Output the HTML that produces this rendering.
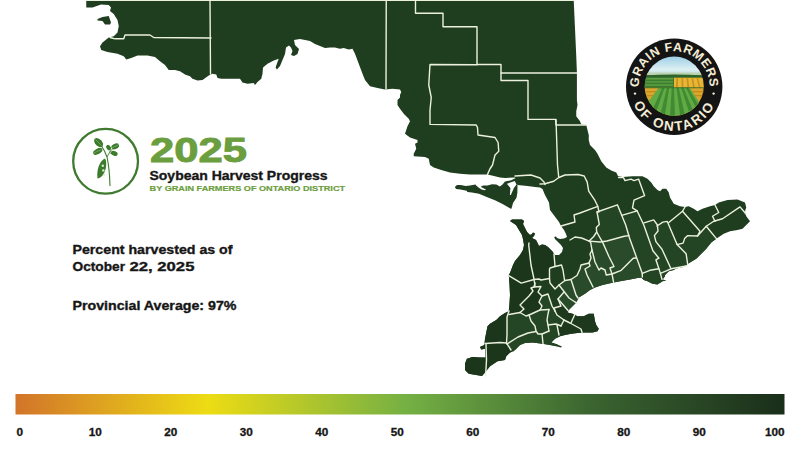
<!DOCTYPE html>
<html><head><meta charset="utf-8">
<style>
html,body{margin:0;padding:0;background:#fff;}
body{width:800px;height:450px;position:relative;overflow:hidden;font-family:"Liberation Sans",sans-serif;}
svg{position:absolute;left:0;top:0;}
.t{position:absolute;white-space:nowrap;font-weight:bold;color:#161616;line-height:1;transform-origin:0 0;}
</style></head><body>
<svg width="800" height="450" viewBox="0 0 800 450">
<defs>
<linearGradient id="bar" x1="0" x2="1" y1="0" y2="0">
<stop offset="0" stop-color="#d2742a"/>
<stop offset="0.25" stop-color="#eddc14"/>
<stop offset="0.51" stop-color="#74b044"/>
<stop offset="0.75" stop-color="#3a6430"/>
<stop offset="1" stop-color="#1a2e1a"/>
</linearGradient>
</defs>
<g id="map">
<clipPath id="mapclip"><path d="M86.25,1 L573.75,1 L576.25,56 L576.9,72.5 L576.9,100 L577.5,105 L576.25,111.25 L576.25,116.25 L580,121.25 L581.25,124.4 L586.25,125 L588.75,135 L588.75,140 L590,145 L595,150 L597.5,153.75 L601.25,161.25 L606.25,167.5 L611.25,170.6 L616.25,172.5 L618.1,176.25 L622.5,176.9 L632.5,176.25 L642.5,176.25 L647.5,178.75 L651.25,182.5 L653.75,186.25 L657.5,190 L660,191.25 L662.5,188.75 L666.25,188.75 L668.75,192.5 L670,197.5 L673.75,203.75 L680,206.25 L685,206.9 L688.75,206.25 L693.75,208.75 L697.5,211.25 L702.5,208.75 L710,206.25 L715,205 L718.75,202.5 L727.5,200 L737.5,199.4 L745,202.5 L746.25,207.5 L745,211.25 L746.25,216.25 L750,221.25 L746.25,225 L742.5,228.75 L737.5,230 L730,231.25 L723.75,233.75 L716.25,238.75 L711.25,242.5 L706.25,248.75 L701.25,253.75 L696.25,258.75 L690,262.5 L686.25,265 L683,267 L676,268.5 L673.75,270 L668.75,271.25 L665,275 L665,276.25 L662.5,279.4 L666.25,280.6 L662.5,281.25 L657.5,284.4 L652.5,283.75 L647.5,281.25 L643.75,280 L641.25,277.5 L637.5,278.1 L630,279.4 L620,281.25 L611.25,283.1 L602.5,285 L595,287.5 L590,290 L585,293.75 L578.75,297.5 L576.25,302.5 L572.5,306.25 L568.75,310 L567.5,312.5 L572.5,313.75 L577.5,316.25 L583.75,316.25 L588.75,313.75 L593.75,313.75 L595,321.25 L596.25,325 L598.75,328.75 L597.5,331.25 L592.5,332.5 L583.75,332.5 L577.5,333.1 L571.25,333.75 L565,335 L560,336.25 L555,338.75 L551.25,342.5 L556,344 L562,346.5 L561,347.5 L555,346 L550,345 L542.5,343.75 L532.5,342.5 L525,343.1 L520,345 L515,350 L513.75,351.25 L510,352.5 L506.25,356.25 L505,360 L497.5,361.25 L490,366.25 L485,372.5 L482,376 L476.25,375 L468.75,373.75 L465,370 L465,363.75 L466.9,358.75 L472.5,356.9 L480,357.5 L485.6,357.5 L485,348.75 L481.25,349.4 L480,346.9 L484.4,345 L485,338.75 L486.25,332.5 L487.5,326.25 L490,323.75 L496.25,320 L500,316.25 L505,313.1 L508.75,311.25 L509.4,305 L510,295 L509.4,282.5 L508.75,275 L510,273 L513,265 L515,261 L520,255 L523,250 L524,245 L523,239 L522,235 L519,230 L516,225 L510,221 L512,219.5 L522,219.5 L524,221 L523,224 L525,228 L527,232 L530,235 L532,234 L533,232.5 L535,233.5 L534,236 L532,238 L536,240 L538,244 L539,246 L542,244.5 L545,245 L548,247 L552,251 L555,255 L559,255 L562,252 L563,248 L561,245 L557,241 L555,239 L554.5,237 L556,236.5 L557,238 L560,239 L564,238.5 L567,237 L566,234 L564,230 L561,226 L559,222 L556,218 L553,214 L550,210 L549,202.5 L545,195 L542.5,189 L540,187.5 L535,187 L527.5,186 L517.5,185 L516,180 L515,177.5 L505,178 L500,177.5 L495,176.25 L487.5,174.4 L470,174.4 L460,173.75 L450,172.5 L441.25,170 L433.75,167.5 L430,165 L428.75,158.75 L425,156.9 L413.75,156.25 L413.75,153.75 L416.25,148.75 L415,143.75 L417.5,142.5 L417.5,140 L410,137.5 L405,133.75 L406.25,130 L407.5,126.25 L410,121.25 L408.75,118.75 L403.75,113.75 L400,108.75 L397.5,105 L397.5,100 L400,97.5 L400,95 L401.25,92 L400,89.4 L392.5,88.75 L385,89.4 L377.5,88 L370,86.25 L365,80 L362.5,73.75 L358.75,63.75 L355,53.75 L352.5,48.75 L348.75,49.4 L343.75,48 L340,48.75 L335,47.5 L330,47.5 L325,48 L320,46 L315,44 L310,41 L305,40 L300,39 L294,40 L295,45 L299,49 L297.5,54 L294,56 L291,55 L292.5,51 L291,47.5 L289,45.6 L286,47.5 L285,54 L282.5,60 L280,66 L276.9,69.4 L275.6,67.5 L277.5,62 L278.75,58.75 L273.75,60.6 L267.5,63.75 L263,67.5 L262.5,73.75 L261.25,78.75 L257.5,81.9 L255,85 L253.75,83 L247.5,83.75 L242.5,82.5 L240,78.75 L221.25,78.75 L217.5,78 L216.25,74.4 L212.5,73.75 L208.75,75.6 L202.5,80 L197.5,80.6 L192.5,78.75 L190,76.25 L185,74.4 L180,71.25 L175,70 L168.75,70 L165,65 L160,61.25 L155,57 L147.5,55.6 L137.5,55.6 L131.25,58 L126.25,59.4 L123.75,56.25 L117.5,53.75 L107.5,52 L101.25,50 L100,46.25 L102.5,42.5 L108.75,37.5 L113.75,36.25 L117.5,32.5 L118.75,26 L117.5,20 L113.75,14 L110,11 L111,7.5 L108.75,5 L101,4.4 L92.5,7.5 L86.25,7.5 Z"/></clipPath>
<path fill="#1f3d1f" d="M86.25,1 L573.75,1 L576.25,56 L576.9,72.5 L576.9,100 L577.5,105 L576.25,111.25 L576.25,116.25 L580,121.25 L581.25,124.4 L586.25,125 L588.75,135 L588.75,140 L590,145 L595,150 L597.5,153.75 L601.25,161.25 L606.25,167.5 L611.25,170.6 L616.25,172.5 L618.1,176.25 L622.5,176.9 L632.5,176.25 L642.5,176.25 L647.5,178.75 L651.25,182.5 L653.75,186.25 L657.5,190 L660,191.25 L662.5,188.75 L666.25,188.75 L668.75,192.5 L670,197.5 L673.75,203.75 L680,206.25 L685,206.9 L688.75,206.25 L693.75,208.75 L697.5,211.25 L702.5,208.75 L710,206.25 L715,205 L718.75,202.5 L727.5,200 L737.5,199.4 L745,202.5 L746.25,207.5 L745,211.25 L746.25,216.25 L750,221.25 L746.25,225 L742.5,228.75 L737.5,230 L730,231.25 L723.75,233.75 L716.25,238.75 L711.25,242.5 L706.25,248.75 L701.25,253.75 L696.25,258.75 L690,262.5 L686.25,265 L683,267 L676,268.5 L673.75,270 L668.75,271.25 L665,275 L665,276.25 L662.5,279.4 L666.25,280.6 L662.5,281.25 L657.5,284.4 L652.5,283.75 L647.5,281.25 L643.75,280 L641.25,277.5 L637.5,278.1 L630,279.4 L620,281.25 L611.25,283.1 L602.5,285 L595,287.5 L590,290 L585,293.75 L578.75,297.5 L576.25,302.5 L572.5,306.25 L568.75,310 L567.5,312.5 L572.5,313.75 L577.5,316.25 L583.75,316.25 L588.75,313.75 L593.75,313.75 L595,321.25 L596.25,325 L598.75,328.75 L597.5,331.25 L592.5,332.5 L583.75,332.5 L577.5,333.1 L571.25,333.75 L565,335 L560,336.25 L555,338.75 L551.25,342.5 L556,344 L562,346.5 L561,347.5 L555,346 L550,345 L542.5,343.75 L532.5,342.5 L525,343.1 L520,345 L515,350 L513.75,351.25 L510,352.5 L506.25,356.25 L505,360 L497.5,361.25 L490,366.25 L485,372.5 L482,376 L476.25,375 L468.75,373.75 L465,370 L465,363.75 L466.9,358.75 L472.5,356.9 L480,357.5 L485.6,357.5 L485,348.75 L481.25,349.4 L480,346.9 L484.4,345 L485,338.75 L486.25,332.5 L487.5,326.25 L490,323.75 L496.25,320 L500,316.25 L505,313.1 L508.75,311.25 L509.4,305 L510,295 L509.4,282.5 L508.75,275 L510,273 L513,265 L515,261 L520,255 L523,250 L524,245 L523,239 L522,235 L519,230 L516,225 L510,221 L512,219.5 L522,219.5 L524,221 L523,224 L525,228 L527,232 L530,235 L532,234 L533,232.5 L535,233.5 L534,236 L532,238 L536,240 L538,244 L539,246 L542,244.5 L545,245 L548,247 L552,251 L555,255 L559,255 L562,252 L563,248 L561,245 L557,241 L555,239 L554.5,237 L556,236.5 L557,238 L560,239 L564,238.5 L567,237 L566,234 L564,230 L561,226 L559,222 L556,218 L553,214 L550,210 L549,202.5 L545,195 L542.5,189 L540,187.5 L535,187 L527.5,186 L517.5,185 L516,180 L515,177.5 L505,178 L500,177.5 L495,176.25 L487.5,174.4 L470,174.4 L460,173.75 L450,172.5 L441.25,170 L433.75,167.5 L430,165 L428.75,158.75 L425,156.9 L413.75,156.25 L413.75,153.75 L416.25,148.75 L415,143.75 L417.5,142.5 L417.5,140 L410,137.5 L405,133.75 L406.25,130 L407.5,126.25 L410,121.25 L408.75,118.75 L403.75,113.75 L400,108.75 L397.5,105 L397.5,100 L400,97.5 L400,95 L401.25,92 L400,89.4 L392.5,88.75 L385,89.4 L377.5,88 L370,86.25 L365,80 L362.5,73.75 L358.75,63.75 L355,53.75 L352.5,48.75 L348.75,49.4 L343.75,48 L340,48.75 L335,47.5 L330,47.5 L325,48 L320,46 L315,44 L310,41 L305,40 L300,39 L294,40 L295,45 L299,49 L297.5,54 L294,56 L291,55 L292.5,51 L291,47.5 L289,45.6 L286,47.5 L285,54 L282.5,60 L280,66 L276.9,69.4 L275.6,67.5 L277.5,62 L278.75,58.75 L273.75,60.6 L267.5,63.75 L263,67.5 L262.5,73.75 L261.25,78.75 L257.5,81.9 L255,85 L253.75,83 L247.5,83.75 L242.5,82.5 L240,78.75 L221.25,78.75 L217.5,78 L216.25,74.4 L212.5,73.75 L208.75,75.6 L202.5,80 L197.5,80.6 L192.5,78.75 L190,76.25 L185,74.4 L180,71.25 L175,70 L168.75,70 L165,65 L160,61.25 L155,57 L147.5,55.6 L137.5,55.6 L131.25,58 L126.25,59.4 L123.75,56.25 L117.5,53.75 L107.5,52 L101.25,50 L100,46.25 L102.5,42.5 L108.75,37.5 L113.75,36.25 L117.5,32.5 L118.75,26 L117.5,20 L113.75,14 L110,11 L111,7.5 L108.75,5 L101,4.4 L92.5,7.5 L86.25,7.5 Z"/>
<g clip-path="url(#mapclip)">
<path fill="#244524" d="M589.2,241.1 L593.7,236.5 L596.7,232 L599.3,224.4 L597,212 L617.4,204.8 L621.7,215.3 L637.1,210.8 L644,222.9 L653.7,219.9 L657.4,225 L662.8,222.1 L667.3,221.4 L677.1,244.6 L683.1,243.1 L687.7,235.6 L697.5,236 L706.25,226.25 L716.4,238.6 L730,240 L720,270 L690,275 L640,290 L629,235.6 L624.2,236.3 L607,241 L600,242 Z"/>
<path fill="#1b361b" d="M500,200 L556,230 L554,254 L555,266.5 L550,268 L549.5,269 L549.5,278.5 L541,280 L539,279 L534,279.5 L535,283 L534,287 L541,286.5 L538,292 L542,296 L539,302 L542,306 L540,310 L529,315 L526,316 L520,312.5 L509,314.5 L507,317 L507,335 L506.5,343 L511,350 L520,380 L450,390 L450,200 Z"/>
<path fill="#294b29" d="M559,285 L565,280.5 L571,279.5 L577,275.5 L580,269 L581,265 L589,263 L591,258 L590,254 L592,250 L590.7,242.6 L589.2,241.1 L600,242 L607,241 L624.2,236.3 L629,235.6 L642.3,273.4 L642.3,290 L600,295 L578,305 L568,310.5 L558,299 L564,292 Z"/>
<path fill="#254625" d="M507,317 L509,314.5 L520,312.5 L526,316 L529,315 L540,310 L542,306 L539,302 L542,296 L548,294 L552,306 L555,311 L557,315 L564,320 L561,326 L557,325 L559,335 L555,350 L511,350 L506.5,343 L507,335 Z"/>
<path fill="#1d381d" d="M555,311 L557,315 L564,320 L561,326 L557,325 L559,335 L556,345 L600,340 L605,305 L578,305 L568,310.5 L558,299 L561,306 L554,308 Z"/>
</g>
<path fill="#1f3d1f" d="M97.5,19 L102.5,17 L108.75,16 L111,22.5 L110,24.4 L105,24.4 L102.5,21 L97.5,20.6 Z"/>
<path fill="#1f3d1f" d="M454.8,187 L457,185 L460.5,185 L465.75,186 L470,185.5 L475.4,184.6 L476.7,186 L478.9,187.7 L481.5,189.4 L485,190.3 L485.9,189.4 L480.6,186.8 L483.2,185.5 L487.6,185.5 L492,184.2 L496.4,184.6 L499.9,186.4 L502.5,184.6 L505,181.6 L511.25,180.25 L514.75,178.5 L517.5,177.5 L518.5,179.5 L517.5,184 L517.4,192.5 L516.5,197.75 L513,203 L512.1,206.5 L511.25,209 L508.6,207.4 L502.5,203.9 L495.5,200.4 L486.75,196.9 L478.9,193.8 L471.9,192.5 L467.5,192 L466.6,190.75 L460.5,189.4 L456.1,189 Z"/>
<path fill="#fff" d="M506.9,183.75 L514.75,181 L516.5,184.6 L513.9,188 L510.8,195 L509.9,195 L510.4,188 Z"/>
<g fill="none" stroke="#ebf0df" stroke-width="1.4" stroke-linejoin="round" stroke-linecap="round">
<path d="M86,0.3 L574,0.3"/>
<path d="M210,0 L210.5,74"/>
<path d="M110,37.5 L113.75,38.5 L116,38.75 L123.75,38.75 L125,35 L150,35 L153.75,37.5 L211,38"/>
<path d="M386.25,0 L386,89"/>
<path d="M415.5,0 L415.5,13.2 L443,13.2 L443,26.8 L477,26.8 L477,64.7 L430,64.5 L428.75,85 L431.25,97.5 L430,110 L430,124.4 L476.25,125 L477.5,127.5 L478,135 L495,137.5 L498.1,142.5 L498.75,151.25 L495,155 L492.5,165 L490,168.75 L487.5,174.4"/>
<path d="M477,64.5 L501,64.5 L501,80.5 L528,80.5 L528,119.4 L555.6,119.4 L556,125 L586.25,125"/>
<path d="M501,73 L576.9,73"/>
<path d="M556,119.4 L557.5,165 L558.75,177.5"/>
<path d="M515,176 L531,175 L540,178 L544,182 L545,184.5"/>
<path d="M540,184 L545,183.75 L553.75,181.25 L558.75,177.5 L565,175 L578.1,174.5 L584.2,176 L587.2,182.1 L588.7,191.2 L594.8,200.2 L597.8,206.3 L599,212"/>
<path d="M561,226 L575,222 L574,215 L580,213 L597.8,206.3"/>
<path d="M597,212 L617.4,204.8 L625.7,225 L629.5,238 L642.3,273.4 L642.3,277"/>
<path d="M597,212 L599.3,224.4 L596.3,227.4 L596.7,232 L602.8,242.6 L608.8,256.2 L614,266.5 L610,268 L612,274 L613.6,282.4"/>
<path d="M570,240 L575,237 L581.6,238 L589.2,241.1 L593.7,236.5 L596.7,232"/>
<path d="M589.2,241.1 L600,242 L607,241 L624.2,236.3 L629,235.6"/>
<path d="M592,250 L595,262 L599,270 L601,268 L605,270 L606.25,275 L612,274 L621.2,270.3 L633.2,258.2 L636,258"/>
<path d="M621.7,215.3 L637.1,210.8 L643.8,225 L652.9,250.7 L658.9,258.2 L655.9,259.8 L658.9,268.8 L660.4,273.4 L662,279.4"/>
<path d="M642.3,273.4 L649.9,270.3 L658.9,268.8"/>
<path d="M660.4,273.4 L671,268.8 L687.7,265.8"/>
<path d="M618.5,177.6 L623.5,177.6 L625,180.6 L631,179.1 L634,180.6 L638.6,179.1 L644.6,195.7 L634,200.2 L632.5,207.8 L637.1,210.8"/>
<path d="M644,222.9 L653.7,219.9 L657.4,225 L658,231 L654.4,235.6 L655.9,241.6 L662,249.2 L671,268.8"/>
<path d="M657,226 L662.8,222.1 L667.3,221.4 L677.1,244.6 L683.1,243.1 L684.6,238.6 L687.7,235.6 L697.5,236 L706.25,226.25 L713.75,221.25 L722.5,218.75 L740,206.9 L743.75,211.25 L746,214"/>
<path d="M677.1,244.6 L686.1,253.7 L687.7,264.3"/>
<path d="M668.8,222.5 L682.5,211.25 L685,207"/>
<path d="M682.5,211.25 L700,231.25 L697.5,236"/>
<path d="M706.25,226.25 L716.4,238.6"/>
<path d="M715,205 L718.75,212.5 L712.5,216.25 L715,221.25"/>
<path d="M529,243 L528.7,245 L531,265 L534,279 L535,286"/>
<path d="M508.75,275.6 L521.25,283.1 L534,279.5 L539,279 L541,280 L549.5,278.5"/>
<path d="M554,254 L555,266.5"/>
<path d="M549.5,278.5 L549.5,269 L550,268 L555,266.5 L561.5,265 L563,270 L564.5,280"/>
<path d="M549.5,278.5 L550,283 L555,289 L559,285 L565,280.5 L571,279.5 L577,275.5 L580,269 L581,265 L589,263 L591,258 L590,254 L592,250 L590.7,242.6 L589.2,241.1"/>
<path d="M559,285 L569,298 L575,302 L577,303"/>
<path d="M571,279.5 L576,295 L578,298"/>
<path d="M589,263 L590,266 L585,269 L587,275 L591,283 L593,287"/>
<path d="M535,283 L534,287 L531,288 L533,291 L529,296 L525,300 L520,305 L524,309 L520,312.5"/>
<path d="M534,287 L541,286.5 L538,292 L542,296 L539,302 L542,306 L540,310"/>
<path d="M509,314.5 L520,312.5 L526,316 L529,315 L540,310 L549,309.5"/>
<path d="M542,296 L548,294 L552,306 L555,311"/>
<path d="M549,309.5 L548,314 L547,320 L548,325 L549,331"/>
<path d="M548,325 L556,324 L561,326"/>
<path d="M564,292 L558,299 L561,306 L554,308 L555,311"/>
<path d="M558,299 L568,310.5"/>
<path d="M555,311 L557,315 L564,320 L570,323 L581,329 L582,332.5"/>
<path d="M564,320 L561,326"/>
<path d="M575,314 L571,323"/>
<path d="M557,325 L559,335"/>
<path d="M529,315 L531,321 L535,326 L536,331 L538,334 L542,334 L549,331"/>
<path d="M542,334 L543,343.5"/>
<path d="M507,344 L518,337 L528,333 L536,331.5"/>
<path d="M509,311 L507,317 L507,335 L506.5,343"/>
<path d="M485,343.5 L500,342.5 L506.5,343"/>
<path d="M506.5,343 L511,350"/>
<path d="M486,344 L486.5,360 L485.6,376"/>
</g>
</g>
<rect x="15.5" y="394" width="769" height="20.5" fill="url(#bar)"/>
<circle cx="105.6" cy="161.3" r="32.4" fill="none" stroke="#3f7a2e" stroke-width="2.3"/>
<g id="plant" fill="#3c7a2c">
<path d="M110,186 Q109.5,168 107,157 Q105,151 101.5,146" fill="none" stroke="#3c7a2c" stroke-width="1.1"/>
<path d="M107,157 Q109,153 111,150.5" fill="none" stroke="#3c7a2c" stroke-width="0.9"/>
<path d="M109.5,152 L114,147.5" fill="none" stroke="#3c7a2c" stroke-width="0.8"/>
<path d="M109.5,153 L112.5,153.5" fill="none" stroke="#3c7a2c" stroke-width="0.8"/>
<ellipse cx="98.6" cy="142.6" rx="5.4" ry="3.4" transform="rotate(45 98.6 142.6)"/>
<ellipse cx="97.8" cy="151.4" rx="5" ry="2.7" transform="rotate(-28 97.8 151.4)"/>
<ellipse cx="108.6" cy="147.6" rx="2.9" ry="2.1" transform="rotate(55 108.6 147.6)"/>
<ellipse cx="115.2" cy="146.4" rx="4" ry="2.6" transform="rotate(-25 115.2 146.4)"/>
<ellipse cx="114.3" cy="153.4" rx="3.5" ry="2.3" transform="rotate(22 114.3 153.4)"/>
<path d="M104.8,158.5 C99.5,161 96.3,170 97.5,178.5 C102.5,178 106.5,171 106.2,163 C106,160.5 105.5,159 104.8,158.5 Z"/>
<g fill="#dfe9d2"><circle cx="102.8" cy="165.8" r="1.2"/><circle cx="103.3" cy="170.4" r="1.2"/><circle cx="104" cy="174.8" r="1.1"/></g>
<g stroke="#dfe9d2" stroke-width="0.35" fill="none"><path d="M95.5,139.5 L101.5,145.5"/><path d="M93.8,153 L101.5,149.5"/><path d="M112,148 L118,145"/></g>
</g>
<g id="logo">
<clipPath id="lc"><circle cx="674.2" cy="86.2" r="29.6"/></clipPath>
<linearGradient id="sky" x1="0" x2="0" y1="0" y2="1"><stop offset="0" stop-color="#9ccde6"/><stop offset="0.75" stop-color="#dceff2"/><stop offset="1" stop-color="#c4e0e2"/></linearGradient>
<circle cx="674.2" cy="86.7" r="48.2" fill="#141414"/>
<g clip-path="url(#lc)">
<rect x="644" y="56" width="61" height="18" fill="url(#sky)"/>
<rect x="644" y="72.5" width="61" height="3" fill="#b9d3b0"/>
<path d="M644,75.5 Q674,73.5 705,75.5 L705,78 L644,78 Z" fill="#2c642a"/>
<rect x="644" y="77.7" width="30" height="10.2" fill="#5c9e42"/>
<g fill="#3a7c30"><rect x="644" y="79.6" width="30" height="1.6"/><rect x="644" y="82.6" width="30" height="1.6"/><rect x="644" y="85.8" width="30" height="1.6"/></g>
<rect x="673.6" y="77.7" width="31" height="10.2" fill="#e6b634"/>
<g fill="#c8901e"><path d="M676.5,77.7 L678,77.7 L677.8,87.9 L676,87.9 Z"/><path d="M681.5,77.7 L683,77.7 L683.5,87.9 L681.7,87.9 Z"/><path d="M686.5,77.7 L688,77.7 L689.3,87.9 L687.5,87.9 Z"/><path d="M691.5,77.7 L693,77.7 L695,87.9 L693.2,87.9 Z"/><path d="M696.5,77.7 L698,77.7 L700.7,87.9 L699,87.9 Z"/></g>
<rect x="673.3" y="77.7" width="0.7" height="10.2" fill="#2c642a"/>
<rect x="644" y="87.6" width="61" height="30" fill="#dba62e"/>
<g fill="#c58a1c"><rect x="644" y="91" width="61" height="1.3"/><rect x="644" y="95" width="61" height="1.3"/></g>
<path d="M658.7,87.8 L689.8,87.8 L698,100.2 L706,112 L706,118 L642,118 L642,112 L649.3,100.2 Z" fill="#62aa44"/>
<g fill="#3f8a32">
<path d="M662.2,87.8 L664.5,87.8 L654,118 L649,118 Z"/>
<path d="M667,87.8 L669.2,87.8 L664.5,118 L659.5,118 Z"/>
<path d="M671.7,87.8 L674,87.8 L675,118 L670,118 Z"/>
<path d="M676.5,87.8 L678.7,87.8 L685.5,118 L680.5,118 Z"/>
<path d="M681.2,87.8 L683.5,87.8 L696,118 L691,118 Z"/>
<path d="M686,87.8 L688.2,87.8 L706,118 L701,118 Z"/>
</g>
<rect x="644" y="87.4" width="61" height="0.8" fill="#2c642a"/>
</g>
<path id="arcTop" d="M638.7,86.7 A35.5,35.5 0 0 1 709.7,86.7" fill="none"/>
<path id="arcBot" d="M630.0,86.7 A44.2,44.2 0 0 0 718.4000000000001,86.7" fill="none"/>
<text font-family="Liberation Sans" font-weight="bold" font-size="12.5" fill="#f4edd6" letter-spacing="0.6"><textPath href="#arcTop" startOffset="50%" text-anchor="middle">GRAIN FARMERS</textPath></text>
<text font-family="Liberation Sans" font-weight="bold" font-size="13.5" fill="#f4edd6" letter-spacing="1.9"><textPath href="#arcBot" startOffset="50%" text-anchor="middle">OF ONTARIO</textPath></text>
<circle cx="635" cy="93.6" r="1.2" fill="#f4edd6"/>
<circle cx="713.6" cy="93.6" r="1.2" fill="#f4edd6"/>
</g>
</svg>
<svg width="800" height="450" viewBox="0 0 800 450" style="font-family:'Liberation Sans',sans-serif;font-weight:bold;">
<text x="150" y="161.6" font-size="34.5" fill="#6b9e3e" stroke="#6b9e3e" stroke-width="0.9" textLength="97" lengthAdjust="spacingAndGlyphs">2025</text>
<text x="149.5" y="179.8" font-size="13" fill="#161616" stroke="#161616" stroke-width="0.35" textLength="178" lengthAdjust="spacingAndGlyphs">Soybean Harvest Progress</text>
<text x="149.6" y="190.9" font-size="8.1" fill="#6b9e3e" stroke="#6b9e3e" stroke-width="0.2" textLength="195.5" lengthAdjust="spacingAndGlyphs">BY GRAIN FARMERS OF ONTARIO DISTRICT</text>
<text x="72.5" y="253.8" font-size="13" fill="#161616" stroke="#161616" stroke-width="0.35" textLength="160" lengthAdjust="spacingAndGlyphs">Percent harvested as of</text>
<text x="72.5" y="270.8" font-size="13" fill="#161616" stroke="#161616" stroke-width="0.35" textLength="52.5" lengthAdjust="spacingAndGlyphs">October</text>
<text x="129.6" y="270.8" font-size="13" fill="#161616" stroke="#161616" stroke-width="0.35" textLength="64.8" lengthAdjust="spacingAndGlyphs">22, 2025</text>
<text x="72.5" y="310" font-size="13" fill="#161616" stroke="#161616" stroke-width="0.35" textLength="164" lengthAdjust="spacingAndGlyphs">Provincial Average: 97%</text>
<text x="0" y="0" font-size="10.5" fill="#161616" stroke="#161616" stroke-width="0.3" text-anchor="middle" transform="translate(19.8 436) scale(1.12 1)">0</text>
<text x="0" y="0" font-size="10.5" fill="#161616" stroke="#161616" stroke-width="0.3" text-anchor="middle" transform="translate(95.3 436) scale(1.12 1)">10</text>
<text x="0" y="0" font-size="10.5" fill="#161616" stroke="#161616" stroke-width="0.3" text-anchor="middle" transform="translate(170.8 436) scale(1.12 1)">20</text>
<text x="0" y="0" font-size="10.5" fill="#161616" stroke="#161616" stroke-width="0.3" text-anchor="middle" transform="translate(246.3 436) scale(1.12 1)">30</text>
<text x="0" y="0" font-size="10.5" fill="#161616" stroke="#161616" stroke-width="0.3" text-anchor="middle" transform="translate(321.8 436) scale(1.12 1)">40</text>
<text x="0" y="0" font-size="10.5" fill="#161616" stroke="#161616" stroke-width="0.3" text-anchor="middle" transform="translate(397.3 436) scale(1.12 1)">50</text>
<text x="0" y="0" font-size="10.5" fill="#161616" stroke="#161616" stroke-width="0.3" text-anchor="middle" transform="translate(472.8 436) scale(1.12 1)">60</text>
<text x="0" y="0" font-size="10.5" fill="#161616" stroke="#161616" stroke-width="0.3" text-anchor="middle" transform="translate(548.3 436) scale(1.12 1)">70</text>
<text x="0" y="0" font-size="10.5" fill="#161616" stroke="#161616" stroke-width="0.3" text-anchor="middle" transform="translate(623.8 436) scale(1.12 1)">80</text>
<text x="0" y="0" font-size="10.5" fill="#161616" stroke="#161616" stroke-width="0.3" text-anchor="middle" transform="translate(699.3 436) scale(1.12 1)">90</text>
<text x="0" y="0" font-size="10.5" fill="#161616" stroke="#161616" stroke-width="0.3" text-anchor="middle" transform="translate(774.8 436) scale(1.12 1)">100</text>
</svg>
</body></html>
